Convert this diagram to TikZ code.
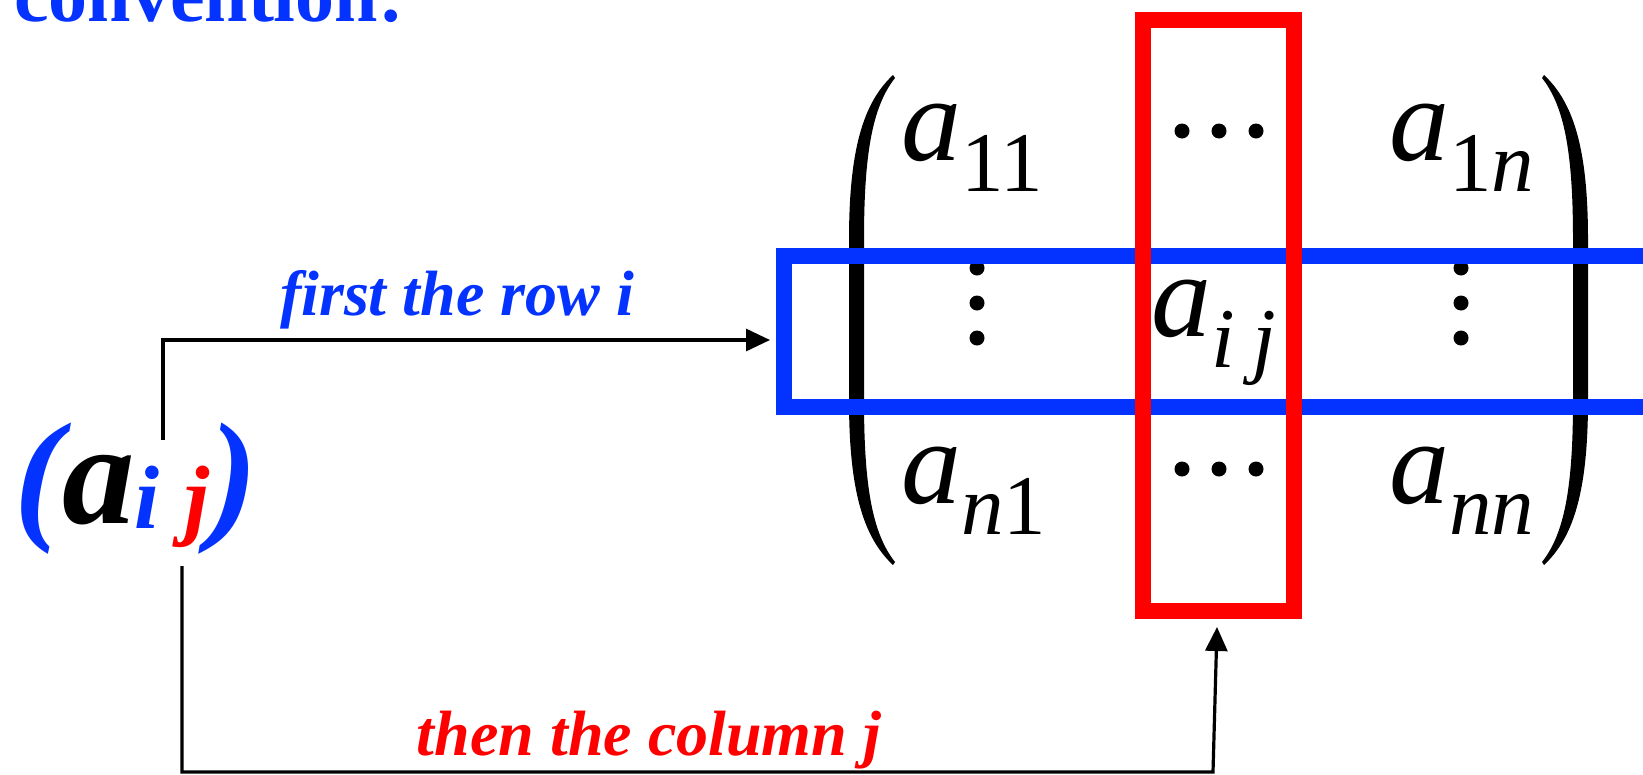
\documentclass[tikz,border=0pt]{standalone}
\usepackage{fontspec}
\setmainfont{Liberation Serif}
\usetikzlibrary{arrows.meta}
\definecolor{myblue}{RGB}{4,50,255}
\definecolor{myred}{RGB}{255,0,0}
\newcommand\fsz[1]{\fontsize{#1}{#1}\selectfont}
\newcommand\matentry[1]{{\fsz{120}\textit{a}\raisebox{-31pt}{\fsz{85}#1}}}
\begin{document}
\begin{tikzpicture}[x=1pt,y=-1pt,
  txt/.style={inner sep=0pt, outer sep=0pt, anchor=base west},
  lbl/.style={inner sep=0pt, outer sep=0pt, anchor=base, font=\fsz{64}\bfseries\itshape},
  conn/.style={line width=3.2pt, -{Triangle[length=24pt,width=22pt]}},
  rowbox/.style={draw=myblue, line width=16pt},
  colbox/.style={draw=myred, line width=16pt},
  dot/.style={fill=black}]
\useasboundingbox (0,0) rectangle (1643,774);
\clip (0,0) rectangle (1643,774);

% title (cut off at top)
\node[txt, text=myblue] (title) at (14,21) {\fsz{78}\bfseries convention:};

% (a_ij)
\node[txt] (aij) at (14,523) {\fsz{145}\bfseries\itshape\textcolor{myblue}{(}a\raisebox{-5pt}{\fsz{90}\textcolor{myblue}{i}\hspace{25pt}\textcolor{myred}{j}}\textcolor{myblue}{)}};

% matrix parentheses
\fill (893,75) .. controls (863,103) and (849,150) .. (849,240) -- (849,400)
  .. controls (849,490) and (863,537) .. (893,565) -- (895,562)
  .. controls (872,533) and (864,485) .. (864,400) -- (864,240)
  .. controls (864,155) and (872,107) .. (895,78) -- cycle;
\fill (1544,75) .. controls (1574,103) and (1588,150) .. (1588,240) -- (1588,400)
  .. controls (1588,490) and (1574,537) .. (1544,565) -- (1542,562)
  .. controls (1565,533) and (1573,485) .. (1573,400) -- (1573,240)
  .. controls (1573,155) and (1565,107) .. (1542,78) -- cycle;

% matrix entries
\node[txt] (a11) at (901,160) {\matentry{11}};
\node[txt] (a1n) at (1389,160) {\matentry{1\textit{n}}};
\node[txt] (amid) at (1151,336) {\matentry{\textit{i}\hspace{18pt}\textit{j}}};
\node[txt] (an1) at (901,503) {\matentry{\textit{n}1}};
\node[txt] (ann) at (1389,503) {\matentry{\textit{nn}}};

% dots
\foreach \x in {1182,1219,1256} {
  \fill[dot] (\x,131) circle (7.5);
  \fill[dot] (\x,469) circle (7.5);
}
\foreach \y in {268,303,338} {
  \fill[dot] (977,\y) circle (7.5);
  \fill[dot] (1461,\y) circle (7.5);
}

% row and column boxes
\draw[rowbox] (784,256) rectangle (1700,407);
\draw[colbox] (1143,20) rectangle (1294,610.5);

% connectors
\coordinate (rowstart) at (163,440);
\coordinate (rowtip) at (770,340);
\coordinate (colstart) at (182,566);
\coordinate (colcorner) at (1213,772);
\coordinate (coltip) at (1217,627);
\draw[conn] (rowstart) |- (rowtip);
\draw[conn] (colstart) |- (colcorner) -- (coltip);

% labels
\node[lbl, text=myblue] (rowlbl) at (457,315) {first the row i};
\node[lbl, text=myred] (collbl) at (649,755) {then the column j};
\end{tikzpicture}
\end{document}
